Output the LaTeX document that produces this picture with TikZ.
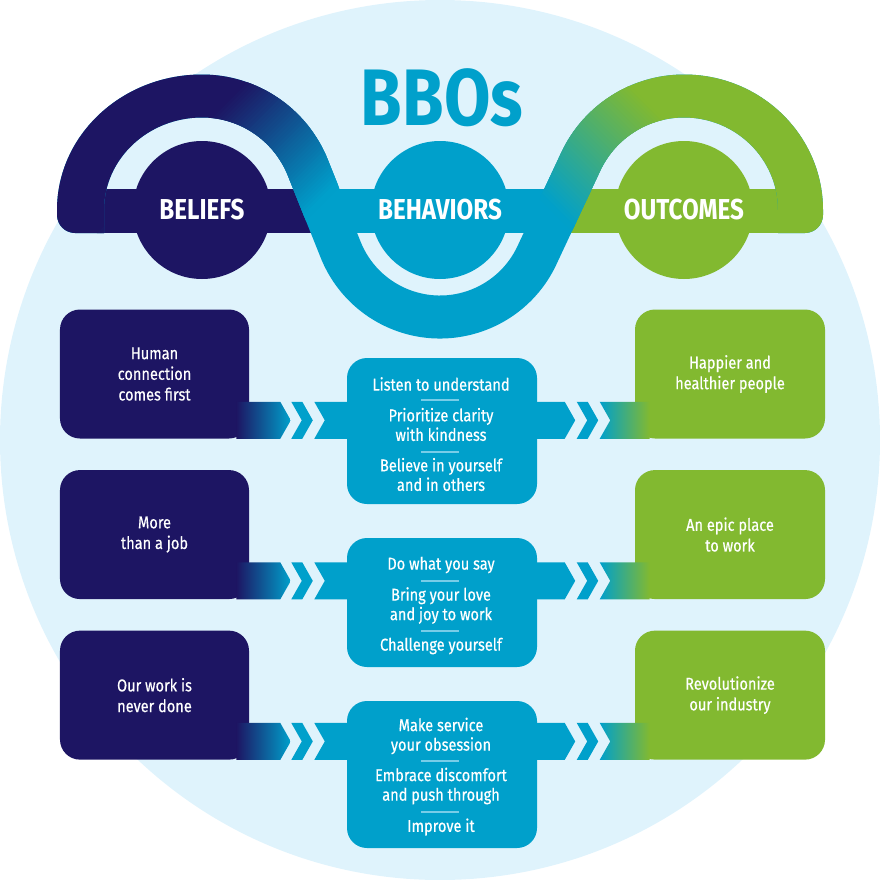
\documentclass[tikz,border=0pt]{standalone}
\usepackage{fontspec}
\newfontfamily\cond{Fira Sans}[FakeStretch=0.84]
\newfontfamily\condm{Fira Sans}[FakeStretch=0.85,FakeBold=0.5]
\usetikzlibrary{calc,positioning}
\definecolor{bbonavy}{RGB}{29,21,99}
\definecolor{bboblue}{RGB}{0,160,203}
\definecolor{bbogreen}{RGB}{130,185,48}
\definecolor{bbopale}{RGB}{223,243,252}
\definecolor{bbosep}{RGB}{120,205,232}
\tikzset{
  box/.style={rounded corners=5mm,inner sep=0pt,align=center,text=white,
    font=\condm\fontsize{12.2}{14.7}\selectfont},
  belief/.style={box,fill=bbonavy,minimum width=47.25mm,minimum height=32.25mm},
  outc/.style={box,fill=bbogreen,minimum width=47.5mm,minimum height=32.25mm},
  behav/.style={box,fill=bboblue,minimum width=47.5mm},
  btxt/.style={align=center,text=white,inner sep=0pt,font=\condm\fontsize{12.2}{13.9}\selectfont},
  sep/.style={draw=bbosep,line width=0.35mm},
  ring/.style={circle,inner sep=0pt,minimum size=34.5mm,text=white,
    font=\cond\bfseries\fontsize{20.5}{22}\selectfont},
}

\begin{document}
\begin{tikzpicture}[x=0.25mm,y=-0.25mm]
  \useasboundingbox (0,0) rectangle (880,880);
  \fill[bbopale] (440,440) circle[radius=440];

  \node[font=\cond\bfseries\fontsize{57}{60}\selectfont,text=bboblue,anchor=base] (title) at (442,125) {BBOs};

  % bar behind the wave
  \coordinate (c1) at (202,210);
  \coordinate (c2) at (440,210);
  \coordinate (c3) at (684,210);
  \fill[bbonavy] (100,189) rectangle (325,233);
  \fill[bboblue] (325,189) rectangle (562,233);
  \fill[bbogreen] (562,189) rectangle (782,233);
  \node[ring,fill=bbonavy] (bel) at (c1) {BELIEFS};
  \node[ring,fill=bboblue] (beh) at (c2) {BEHAVIORS};
  \node[ring,fill=bbogreen] (out) at (c3) {OUTCOMES};

  % the wave
  \begin{scope}
    \clip (104,233) -- (75,233) arc[start angle=90,end angle=180,radius=18] -- (57,210)
      arc[start angle=180,end angle=270,x radius=145,y radius=135.5]
      arc[start angle=270,end angle=338.2,radius=135.5]
      -- ($(c2)+(158.2:85.5)$) arc[start angle=158.2,end angle=25.1,radius=85.5]
      -- ($(c3)+(205.1:135.5)$) arc[start angle=205.1,end angle=270,radius=135.5]
      arc[start angle=270,end angle=360,x radius=139,y radius=135.5]
      -- (823,215) arc[start angle=0,end angle=90,radius=18] -- (778,233) -- (778,210)
      arc[start angle=360,end angle=270,x radius=94,y radius=92.5]
      arc[start angle=270,end angle=205.1,radius=92.5]
      -- ($(c2)+(25.1:128.5)$) arc[start angle=25.1,end angle=158.2,radius=128.5]
      -- ($(c1)+(338.2:92.5)$) arc[start angle=338.2,end angle=270,radius=92.5]
      arc[start angle=270,end angle=180,x radius=98,y radius=92.5] -- cycle;
    \fill[bboblue] (0,0) rectangle (880,400);
    \fill[bbonavy] (0,0) -- (334,0) -- (0,334) -- cycle;
    \foreach \k in {0,...,47} {
      \pgfmathsetmacro\a{330+4*\k}
      \pgfmathtruncatemacro\p{100-(\k+0.5)*100/48}
      \fill[bbonavy!\p!bboblue] (\a,0) -- (\a+8,0) -- (\a+8-440,440) -- (\a-440,440) -- cycle;
    }
    \fill[bbogreen] (540,0) -- (900,0) -- (900,360) -- cycle;
    \foreach \k in {49,48,...,0} {
      \pgfmathsetmacro\a{340+4*\k}
      \pgfmathtruncatemacro\p{(\k+0.5)*100/50}
      \fill[bbogreen!\p!bboblue] (\a,0) -- (\a+8,0) -- (\a+8+440,440) -- (\a+440,440) -- cycle;
    }
  \end{scope}

  % boxes
  \node[belief] (bel1) at (154.5,374) {Human\\connection\\comes first};
  \node[belief,below=7.75mm of bel1] (bel2) {More\\than a job};
  \node[belief,below=7.75mm of bel2] (bel3) {Our work is\\never done};
  \node[outc] (out1) at (730,374) {Happier and\\healthier people};
  \node[outc,below=7.75mm of out1] (out2) {An epic place\\to work};
  \node[outc,below=7.75mm of out2] (out3) {Revolutionize\\our industry};
  \node[behav,minimum height=36.5mm] (beh1) at (442,431) {};
  \node[behav,minimum height=32.25mm] (beh2) at (442,602.5) {};
  \node[behav,minimum height=36.75mm] (beh3) at (442,774.5) {};

  % chevron arrows
  \foreach \r in {1,2,3} {
    \begin{scope}[shift={(bel\r.south east)}]
      \shade[left color=bbonavy,right color=bboblue] (-13,-37) -- (31,-37) -- (41.5,-18.5) -- (31,0) -- (-13,0) -- cycle;
      \fill[bboblue] (42,-37) -- (53,-37) -- (63.5,-18.5) -- (53,0) -- (42,0) -- (52.5,-18.5) -- cycle;
      \fill[bboblue] (65,-37) -- (101,-37) -- (101,0) -- (65,0) -- (75.5,-18.5) -- cycle;
    \end{scope}
    \begin{scope}[shift={(out\r.south west)}]
      \fill[bboblue] (-105,-37) -- (-70,-37) -- (-59.5,-18.5) -- (-70,0) -- (-105,0) -- cycle;
      \fill[bboblue] (-58,-37) -- (-47,-37) -- (-36.5,-18.5) -- (-47,0) -- (-58,0) -- (-47.5,-18.5) -- cycle;
      \shade[left color=bboblue,right color=bbogreen] (-35,-37) -- (15,-37) -- (15,0) -- (-35,0) -- (-24.5,-18.5) -- cycle;
    \end{scope}
  }

  % behaviors
  \node[btxt] (b11) at (441,384) {Listen to understand};
  \draw[sep] (421,400) -- (459,400);
  \node[btxt] (b12) at (441,424.5) {Prioritize clarity\\with kindness};
  \draw[sep] (421,452) -- (459,452);
  \node[btxt] (b13) at (441,474.5) {Believe in yourself\\and in others};

  \node[btxt] (b21) at (441,565) {Do what you say};
  \draw[sep] (421,581) -- (459,581);
  \node[btxt] (b22) at (441,605.5) {Bring your love\\and joy to work};
  \draw[sep] (421,631) -- (459,631);
  \node[btxt] (b23) at (441,646) {Challenge yourself};

  \node[btxt] (b31) at (441,736) {Make service\\your obsession};
  \draw[sep] (421,761) -- (459,761);
  \node[btxt] (b32) at (441,786) {Embrace discomfort\\and push through};
  \draw[sep] (421,812) -- (459,812);
  \node[btxt] (b33) at (441,827) {Improve it};
\end{tikzpicture}
\end{document}
